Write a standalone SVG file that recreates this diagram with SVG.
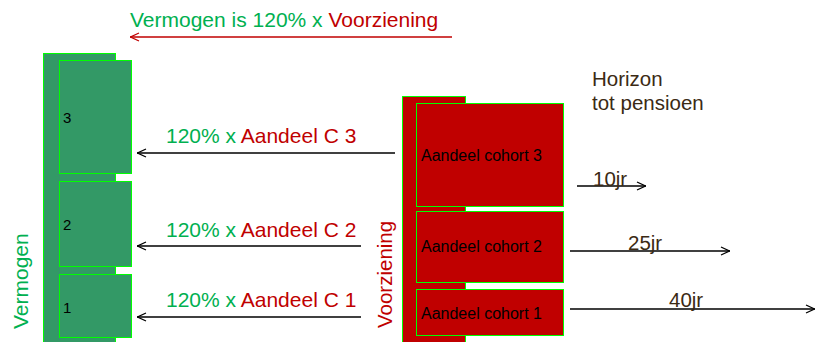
<svg xmlns="http://www.w3.org/2000/svg" width="816" height="342" viewBox="0 0 816 342">
<defs>
<style>
text{font-family:"Liberation Sans",Arial,sans-serif}
.g{fill:#00b050}
.r{fill:#c00000}
.lab{font-size:21px}
.vb{fill:#339966;stroke:#00ff00;stroke-width:1}
.rb{fill:#c00000;stroke:#00ff00;stroke-width:1}
.num{font-size:15px;fill:#000}
.coh{font-size:16px;fill:#000}
.ln{stroke:#000;stroke-width:1.3;fill:none}
.hz{fill:#3b2a14;font-size:20.5px}
</style>
<marker id="ah" viewBox="0 0 10 10" refX="10" refY="5" markerWidth="10" markerHeight="10" markerUnits="userSpaceOnUse" orient="auto">
<path d="M1,1 L9.5,5 L1,9" fill="none" stroke="#000" stroke-width="1.3"/>
</marker>
<marker id="ahr" viewBox="0 0 10 10" refX="10" refY="5" markerWidth="10" markerHeight="10" markerUnits="userSpaceOnUse" orient="auto">
<path d="M1,1 L9.5,5 L1,9" fill="none" stroke="#c00000" stroke-width="1.3"/>
</marker>
</defs>

<g id="title">
<text class="lab" x="130" y="27"><tspan class="g">Vermogen is 120% x </tspan><tspan class="r">Voorziening</tspan></text>
</g>

<g id="vermogen">
<rect class="vb" x="43.5" y="53.5" width="72" height="300"/>
<text class="g" transform="translate(28,329) rotate(-90)" style="font-size:21px">Vermogen</text>
</g>
<g id="v3"><rect class="vb" x="59.5" y="60.5" width="72" height="113"/><text class="num" x="63" y="123">3</text></g>
<g id="v2"><rect class="vb" x="59.5" y="181.5" width="72" height="85"/><text class="num" x="63" y="230">2</text></g>
<g id="v1"><rect class="vb" x="59.5" y="274.5" width="72" height="63"/><text class="num" x="63" y="313">1</text></g>

<g id="voorziening">
<rect class="rb" x="402.5" y="96.5" width="63" height="260"/>
<text class="r" transform="translate(392,328) rotate(-90)" style="font-size:20.5px">Voorziening</text>
</g>
<g id="c3"><rect class="rb" x="416.5" y="103.5" width="147" height="103"/><text class="coh" x="421" y="161">Aandeel cohort 3</text></g>
<g id="c2"><rect class="rb" x="416.5" y="211.5" width="147" height="71"/><text class="coh" x="421" y="252">Aandeel cohort 2</text></g>
<g id="c1"><rect class="rb" x="416.5" y="289.5" width="147" height="46"/><text class="coh" x="421" y="319">Aandeel cohort 1</text></g>

<g id="horizon">
<text class="hz" x="592" y="86">Horizon</text>
<text class="hz" x="592" y="110">tot pensioen</text>
</g>

<g id="connectors">
<line x1="452" y1="37" x2="130" y2="37" stroke="#c00000" stroke-width="1.3" marker-end="url(#ahr)"/>
<line class="ln" x1="395" y1="153" x2="137" y2="153" marker-end="url(#ah)"/>
<line class="ln" x1="361" y1="246" x2="137" y2="246" marker-end="url(#ah)"/>
<line class="ln" x1="361" y1="317" x2="137" y2="317" marker-end="url(#ah)"/>
<line class="ln" x1="577" y1="186" x2="646" y2="186" marker-end="url(#ah)"/>
<line class="ln" x1="570" y1="251" x2="730" y2="251" marker-end="url(#ah)"/>
<line class="ln" x1="570" y1="309" x2="815" y2="309" marker-end="url(#ah)"/>
</g>

<g id="labels">
<text class="lab" x="166" y="143"><tspan class="g">120% x </tspan><tspan class="r">Aandeel C 3</tspan></text>
<text class="lab" x="166" y="237"><tspan class="g">120% x </tspan><tspan class="r">Aandeel C 2</tspan></text>
<text class="lab" x="166" y="307"><tspan class="g">120% x </tspan><tspan class="r">Aandeel C 1</tspan></text>
<text class="hz" x="593" y="186">10jr</text>
<text class="hz" x="628" y="250">25jr</text>
<text class="hz" x="669" y="307">40jr</text>
</g>
</svg>
